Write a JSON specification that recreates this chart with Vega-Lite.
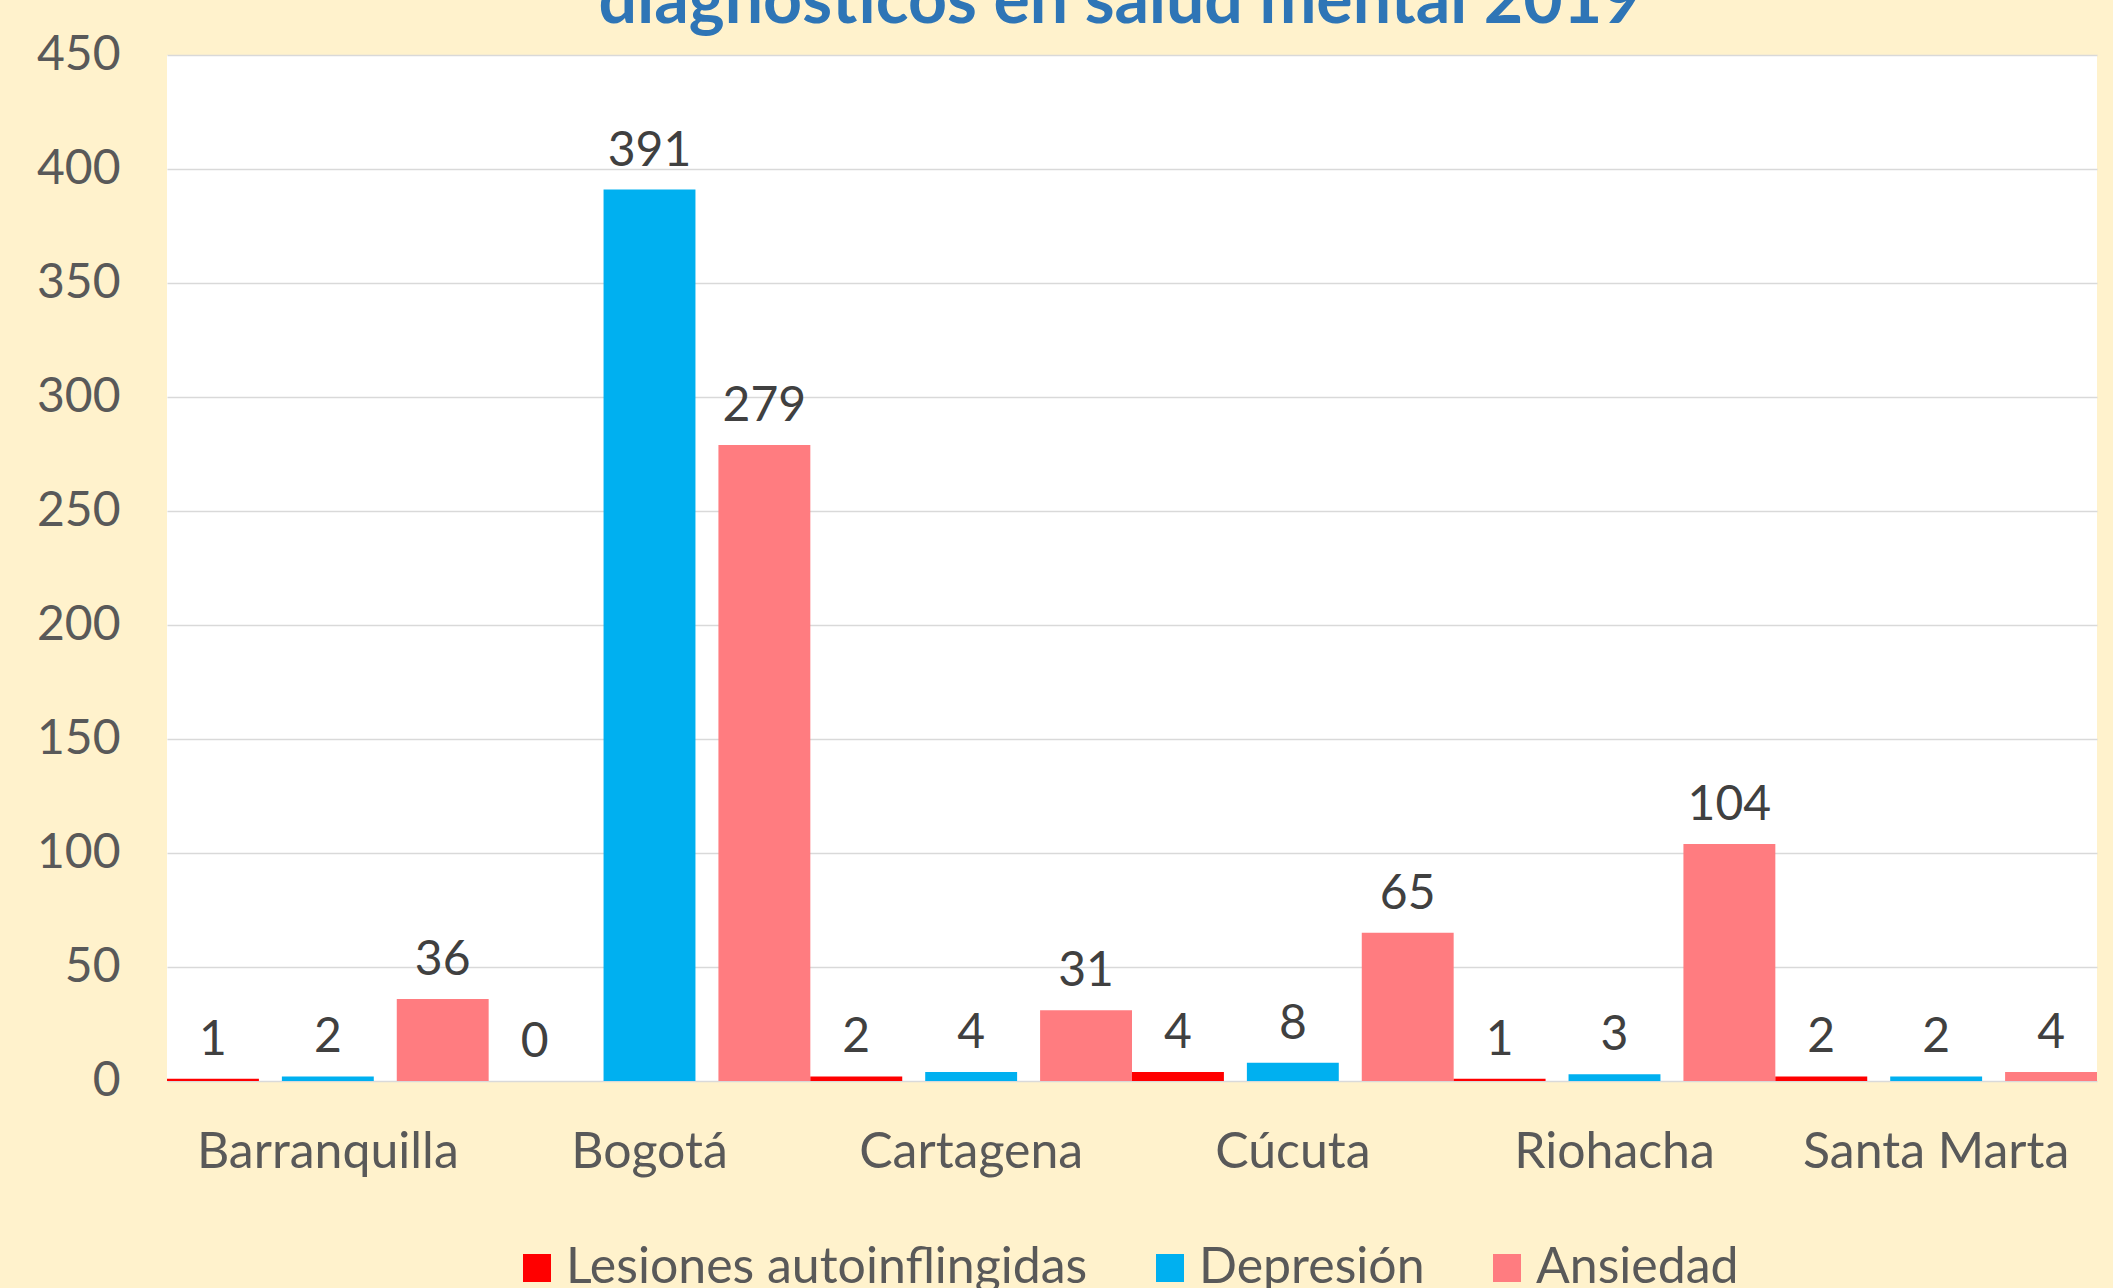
{
  "$schema": "https://vega.github.io/schema/vega-lite/v6.json",
  "width": 1930,
  "height": 1026,
  "autosize": {"type": "none"},
  "padding": {"left": 167, "top": 55, "right": 16, "bottom": 207},
  "background": "#FFF2CC",
  "config": {"view": {"fill": "white", "stroke": null}, "font": "Lato"},
  "title": {
    "text": "diagnosticos en salud mental 2019",
    "fontSize": 68,
    "fontWeight": "bold",
    "color": "#2E75B6",
    "anchor": "middle",
    "frame": "group",
    "baseline": "alphabetic",
    "offset": 8,
    "dx": -12,
    "dy": 68
  },
  "data": {
    "values": [
      {"ciudad": "Barranquilla", "tipo": "Lesiones autoinflingidas", "valor": 1},
      {"ciudad": "Barranquilla", "tipo": "Depresión", "valor": 2},
      {"ciudad": "Barranquilla", "tipo": "Ansiedad", "valor": 36},
      {"ciudad": "Bogotá", "tipo": "Lesiones autoinflingidas", "valor": 0},
      {"ciudad": "Bogotá", "tipo": "Depresión", "valor": 391},
      {"ciudad": "Bogotá", "tipo": "Ansiedad", "valor": 279},
      {"ciudad": "Cartagena", "tipo": "Lesiones autoinflingidas", "valor": 2},
      {"ciudad": "Cartagena", "tipo": "Depresión", "valor": 4},
      {"ciudad": "Cartagena", "tipo": "Ansiedad", "valor": 31},
      {"ciudad": "Cúcuta", "tipo": "Lesiones autoinflingidas", "valor": 4},
      {"ciudad": "Cúcuta", "tipo": "Depresión", "valor": 8},
      {"ciudad": "Cúcuta", "tipo": "Ansiedad", "valor": 65},
      {"ciudad": "Riohacha", "tipo": "Lesiones autoinflingidas", "valor": 1},
      {"ciudad": "Riohacha", "tipo": "Depresión", "valor": 3},
      {"ciudad": "Riohacha", "tipo": "Ansiedad", "valor": 104},
      {"ciudad": "Santa Marta", "tipo": "Lesiones autoinflingidas", "valor": 2},
      {"ciudad": "Santa Marta", "tipo": "Depresión", "valor": 2},
      {"ciudad": "Santa Marta", "tipo": "Ansiedad", "valor": 4}
    ]
  },
  "encoding": {
    "x": {
      "field": "ciudad",
      "type": "nominal",
      "sort": ["Barranquilla", "Bogotá", "Cartagena", "Cúcuta", "Riohacha", "Santa Marta"],
      "scale": {"paddingInner": 0, "paddingOuter": 0},
      "axis": {
        "title": null,
        "labelAngle": 0,
        "labelFontSize": 50,
        "labelColor": "#595959",
        "labelBaseline": "alphabetic",
        "labelPadding": 86,
        "labelLimit": 1000,
        "ticks": false,
        "tickSize": 0,
        "domain": false,
        "grid": false
      }
    },
    "xOffset": {
      "field": "tipo",
      "type": "nominal",
      "sort": ["Lesiones autoinflingidas", "Depresión", "Ansiedad"],
      "scale": {"paddingInner": 0.2, "paddingOuter": 0}
    },
    "y": {
      "field": "valor",
      "type": "quantitative",
      "scale": {"domain": [0, 450], "nice": false},
      "axis": {
        "title": null,
        "values": [0, 50, 100, 150, 200, 250, 300, 350, 400, 450],
        "labelFontSize": 48,
        "labelColor": "#595959",
        "labelPadding": 47,
        "ticks": false,
        "tickSize": 0,
        "domain": false,
        "grid": true,
        "gridColor": "#D9D9D9",
        "gridWidth": 1.5
      }
    }
  },
  "layer": [
    {
      "mark": {"type": "bar"},
      "encoding": {
        "color": {
          "field": "tipo",
          "type": "nominal",
          "sort": ["Lesiones autoinflingidas", "Depresión", "Ansiedad"],
          "scale": {
            "domain": ["Lesiones autoinflingidas", "Depresión", "Ansiedad"],
            "range": ["#FF0000", "#00B0F0", "#FF7C80"]
          },
          "legend": {
            "orient": "none",
            "legendX": 345,
            "legendY": 1188,
            "direction": "horizontal",
            "title": null,
            "symbolType": "square",
            "symbolSize": 784,
            "symbolStrokeWidth": 0,
            "labelFontSize": 50,
            "labelColor": "#595959",
            "labelOffset": 4,
            "labelLimit": 1000,
            "columnPadding": 57
          }
        }
      }
    },
    {
      "mark": {"type": "text", "baseline": "alphabetic", "dy": -24, "fontSize": 48, "color": "#404040"},
      "encoding": {"text": {"field": "valor", "type": "quantitative"}}
    }
  ]
}
